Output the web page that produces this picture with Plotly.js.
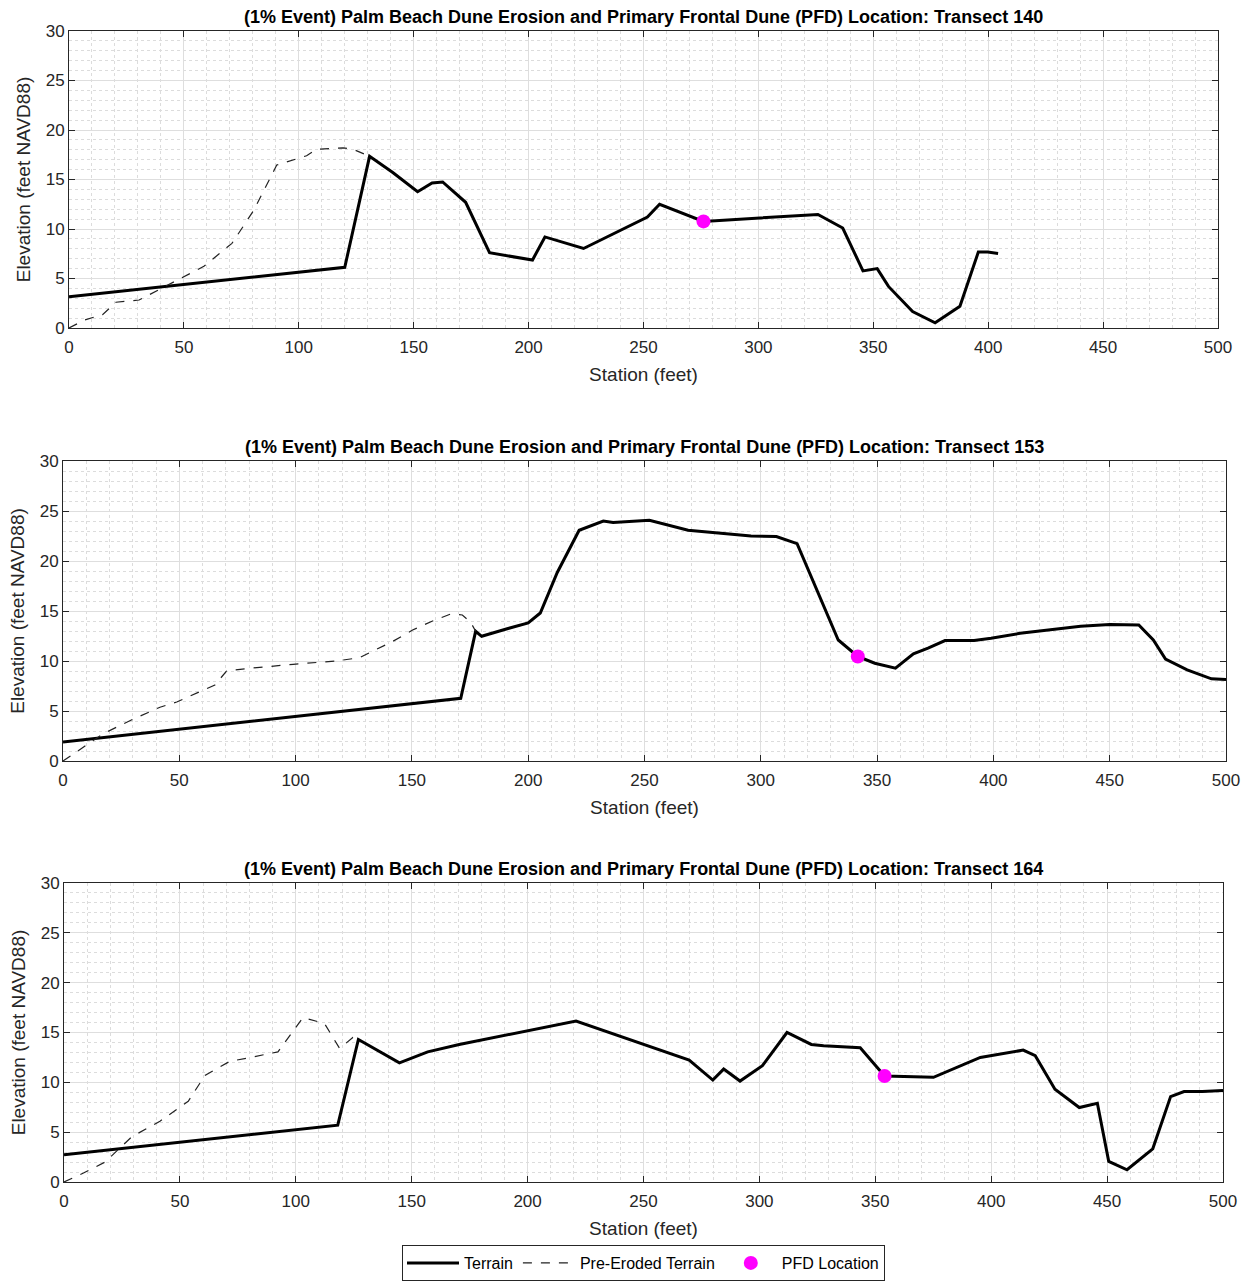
<!DOCTYPE html>
<html>
<head>
<meta charset="utf-8">
<script src="https://cdn.plot.ly/plotly-3.0.1.min.js"></script>
<style>html,body{margin:0;padding:0;background:#fff;}#chart{width:1247px;height:1281px;}</style>
</head>
<body>
<div id="chart"></div>
<script>
// ---------- Transect 140 ----------
var t140_station = [0, 120, 130.8, 140.9, 151.7, 158, 162.6, 172.6, 183, 201.7, 207.1, 223.9, 251.7, 257, 276.1, 325.9, 336.7, 345.5, 351.7, 356.6, 367.1, 376.9, 387.7, 395.7, 399.8, 404.3];
var t140_elev    = [3.15, 6.13, 17.34, 15.7, 13.77, 14.65, 14.75, 12.7, 7.6, 6.87, 9.2, 8.03, 11.2, 12.5, 10.77, 11.47, 10.1, 5.77, 6.0, 4.2, 1.67, 0.53, 2.2, 7.67, 7.67, 7.53];
var t140_pre_station = [0, 6.7, 14.6, 20.4, 30.5, 39.9, 50, 58.7, 70.9, 80.3, 90.4, 103.4, 107.7, 119.3, 123.6, 130.8];
var t140_pre_elev    = [0, 0.8, 1.35, 2.6, 2.83, 3.94, 5.2, 6.23, 8.55, 11.85, 16.46, 17.4, 18.05, 18.2, 18.05, 17.34];
var t140_pfd_station = [276.1];
var t140_pfd_elev    = [10.77];

// ---------- Transect 153 ----------
var t153_station = [0, 171, 177.4, 180, 191.7, 200, 205.2, 212.5, 221.9, 232.3, 236.5, 252.1, 268.75, 295.8, 306.7, 315.6, 333.3, 341.7, 349, 357.9, 365.6, 371.9, 379.2, 391.7, 399, 411.5, 437.5, 450, 462.5, 468.75, 474, 483.3, 493.75, 500];
var t153_elev    = [1.91, 6.27, 12.97, 12.47, 13.27, 13.8, 14.8, 18.85, 23.07, 24.0, 23.84, 24.07, 23.07, 22.5, 22.44, 21.74, 12.1, 10.45, 9.78, 9.29, 10.71, 11.28, 12.04, 12.04, 12.27, 12.77, 13.47, 13.64, 13.6, 12.1, 10.2, 9.12, 8.22, 8.16];
var t153_pre_station = [0, 17.4, 29.6, 41.7, 48.9, 58.9, 65.3, 70.3, 78.9, 98.9, 117.4, 127.4, 141.7, 150.3, 158.9, 166.7, 171.7, 175.3, 177.4];
var t153_pre_elev    = [0, 2.74, 4.13, 5.38, 5.9, 6.93, 7.6, 9.0, 9.24, 9.67, 10.0, 10.33, 11.95, 13.1, 14.0, 14.7, 14.6, 13.86, 12.97];
var t153_pfd_station = [341.7];
var t153_pfd_elev    = [10.45];

// ---------- Transect 164 ----------
var t164_station = [0, 118.1, 127, 144.7, 156.9, 170.5, 220.9, 269.7, 279.9, 284.6, 291.65, 301.3, 311.9, 322.4, 327.7, 343.5, 354, 369.9, 375.1, 395.3, 413.8, 419, 427.5, 438, 445.8, 450.7, 458.6, 469.7, 477.4, 483.2, 491.1, 500];
var t164_elev    = [2.74, 5.7, 14.3, 11.96, 13.06, 13.8, 16.15, 12.23, 10.23, 11.33, 10.13, 11.67, 15.0, 13.8, 13.67, 13.47, 10.63, 10.57, 10.5, 12.5, 13.23, 12.67, 9.3, 7.47, 7.9, 2.07, 1.23, 3.33, 8.57, 9.07, 9.07, 9.17];
var t164_pre_station = [0, 8.4, 17.7, 29.2, 41.4, 53.6, 60.8, 71.5, 81.6, 92.3, 103.1, 112.4, 118.9, 124.6, 127];
var t164_pre_elev    = [0, 0.9, 2.0, 4.53, 6.1, 8.1, 10.7, 12.1, 12.55, 13.06, 16.5, 15.9, 13.4, 14.5, 14.3];
var t164_pfd_station = [354];
var t164_pfd_elev    = [10.63];

var transects = ["140", "153", "164"];
var titlePrefix = "(1% Event) Palm Beach Dune Erosion and Primary Frontal Dune (PFD) Location: Transect ";
var xTitle = "Station (feet)";
var yTitle = "Elevation (feet NAVD88)";
var legendNames = ["Terrain", "Pre-Eroded Terrain", "PFD Location"];

var sets = [
  {s: t140_station, e: t140_elev, ps: t140_pre_station, pe: t140_pre_elev, fs: t140_pfd_station, fe: t140_pfd_elev},
  {s: t153_station, e: t153_elev, ps: t153_pre_station, pe: t153_pre_elev, fs: t153_pfd_station, fe: t153_pfd_elev},
  {s: t164_station, e: t164_elev, ps: t164_pre_station, pe: t164_pre_elev, fs: t164_pfd_station, fe: t164_pfd_elev}
];

var W = 1247, H = 1281;
// plot-area pixel boxes [left, right, top, bottom]
var boxes = [[69, 1218, 31, 328], [63, 1226, 461, 761], [64, 1223, 883, 1182]];

var FONT = "Liberation Sans, Arial, Helvetica, sans-serif";
var axColor = "#262626";

var data = [];
var layout = {
  width: W, height: H,
  margin: {l: 0, r: 0, t: 0, b: 0},
  paper_bgcolor: "#ffffff",
  plot_bgcolor: "#ffffff",
  font: {family: FONT, color: axColor, size: 17},
  showlegend: true,
  legend: {
    orientation: "h", x: 643.5 / W, xanchor: "center", y: 0, yanchor: "bottom",
    bordercolor: axColor, borderwidth: 1, bgcolor: "#ffffff",
    font: {family: FONT, size: 16, color: "#000"}, itemwidth: 52, tracegroupgap: 0
  },
  annotations: []
};

sets.forEach(function(d, i) {
  var n = i === 0 ? "" : String(i + 1);
  var xa = "x" + n, ya = "y" + n;
  var b = boxes[i];
  data.push({x: d.s, y: d.e, xaxis: xa, yaxis: ya, type: "scatter", mode: "lines",
    name: legendNames[0], showlegend: i === 0, legendgroup: "t",
    line: {color: "#000000", width: 3}});
  data.push({x: d.ps, y: d.pe, xaxis: xa, yaxis: ya, type: "scatter", mode: "lines",
    name: legendNames[1], showlegend: i === 0, legendgroup: "p",
    line: {color: "#222222", width: 1.2, dash: "dash"}});
  data.push({x: d.fs, y: d.fe, xaxis: xa, yaxis: ya, type: "scatter", mode: "markers",
    name: legendNames[2], showlegend: i === 0, legendgroup: "f",
    marker: {color: "#ff00ff", size: 14}});

  var common = {
    showline: true, mirror: "ticks", linecolor: axColor, linewidth: 1,
    ticks: "inside", ticklen: 6, tickcolor: axColor, tickwidth: 1,
    showgrid: true, gridcolor: "#dedede", gridwidth: 1,
    zeroline: false, automargin: false,
    tickfont: {family: FONT, size: 17, color: axColor}
  };
  layout["xaxis" + n] = Object.assign({}, common, {
    domain: [b[0] / W, b[1] / W], anchor: ya, range: [0, 500], dtick: 50, tick0: 0,
    ticklabelstandoff: 4,
    minor: {dtick: 10, showgrid: true, gridcolor: "#dcdcdc", griddash: "dot", gridwidth: 1, ticks: ""},
    title: {text: xTitle, font: {family: FONT, size: 19, color: axColor}, standoff: 11}
  });
  layout["yaxis" + n] = Object.assign({}, common, {
    domain: [1 - b[3] / H, 1 - b[2] / H], anchor: xa, range: [0, 30], dtick: 5, tick0: 0,
    minor: {dtick: 1, showgrid: true, gridcolor: "#dcdcdc", griddash: "dot", gridwidth: 1, ticks: ""},
    title: {text: yTitle, font: {family: FONT, size: 19, color: axColor}, standoff: 10}
  });
  layout.annotations.push({
    text: "<b>" + titlePrefix + transects[i] + "</b>",
    xref: "paper", yref: "paper",
    x: ((b[0] + b[1]) / 2) / W, y: 1 - (b[2] - 14) / H,
    xanchor: "center", yanchor: "middle", showarrow: false,
    font: {family: FONT, size: 18, color: "#000"}
  });
});

Plotly.newPlot("chart", data, layout, {displayModeBar: false, staticPlot: true});
</script>
</body>
</html>
